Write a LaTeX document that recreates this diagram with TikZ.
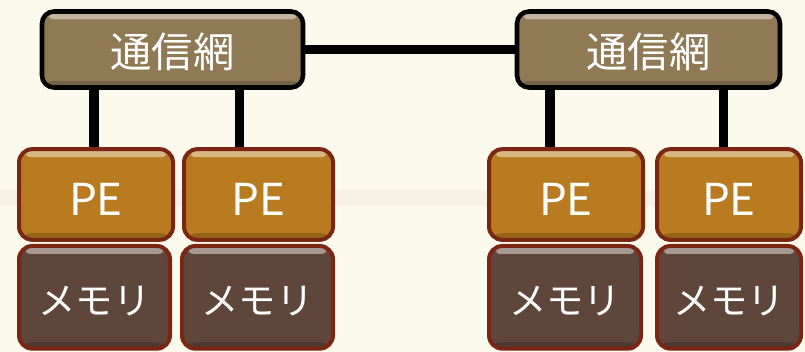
\documentclass[tikz,border=0pt]{standalone}
\usepackage{fontspec}
\newfontfamily\jpfont{Noto Sans CJK JP}
\definecolor{bgcream}{HTML}{FCFAEC}
\definecolor{bgband}{HTML}{F6F3E6}
\definecolor{netfill}{HTML}{8F7A55}
\definecolor{pefill}{HTML}{B87B1F}
\definecolor{memfill}{HTML}{5E463A}
\definecolor{boxrim}{HTML}{7A2612}
\tikzset{every picture/.style={line width=0.75pt}}
\tikzset{
  shine/.style={path picture={
    \fill[white,opacity=.45,rounded corners=3pt] ([xshift=5pt,yshift=-1.5pt]path picture bounding box.north west) rectangle ([xshift=-5pt,yshift=-6pt]path picture bounding box.north east);
    \fill[black,opacity=.18] ([yshift=5pt]path picture bounding box.south west) rectangle (path picture bounding box.south east);}},
  netbox/.style={draw=black, line width=3.4pt, fill=netfill, rounded corners=9pt, shine,
    minimum width=#1*0.75pt, minimum height=57pt, text=white, text height=27pt, text depth=0pt,
    font=\jpfont\fontsize{31}{31}\selectfont},
  pebox/.style={draw=boxrim, line width=3pt, fill=pefill, rounded corners=10pt, shine,
    minimum width=#1*0.75pt, minimum height=68pt, text=white, text height=31pt, text depth=0pt,
    font=\jpfont\fontsize{33}{33}\selectfont},
  membox/.style={draw=boxrim, line width=3pt, fill=memfill, rounded corners=10pt, shine,
    minimum width=#1*0.75pt, minimum height=77pt, text=white, text height=26pt, text depth=0pt,
    font=\jpfont\fontsize{28}{28}\selectfont},
  link/.style={line width=6.8pt, black}
}
\begin{document}
\begin{tikzpicture}[x=0.75pt,y=0.75pt,yscale=-1,xscale=1]
\useasboundingbox (0,0) rectangle (805,352);

%Background
\fill[bgcream] (0,0) rectangle (805,352);
\fill[bgband] (0,190) rectangle (805,206);

%Shape: networks
\node[netbox=261] (netL) at (172.5,49.5) {通信網};
\node[netbox=263] (netR) at (648.5,49.5) {通信網};

%Shape: processing elements
\node[pebox=154] (peA) at (96,194.5) {PE};
\node[pebox=149] (peB) at (258.5,194.5) {PE};
\node[pebox=154] (peC) at (566,194.5) {PE};
\node[pebox=144] (peD) at (729,194.5) {PE};

%Shape: memories
\node[membox=151, anchor=north] (memA) at (94.5,244) {メモリ};
\node[membox=151, anchor=north] (memB) at (257.5,244) {メモリ};
\node[membox=152, anchor=north] (memC) at (565,244) {メモリ};
\node[membox=144, anchor=north] (memD) at (729,244) {メモリ};

%Straight Lines
\draw[link] (netL.east) -- (netR.west);
\draw[link] ([xshift=-1.5pt]peA.north) -- ([xshift=-1.5pt]peA.north |- netL.south);
\draw[link] ([xshift=-14.5pt]peB.north) -- ([xshift=-14.5pt]peB.north |- netL.south);
\draw[link] ([xshift=-12pt]peC.north) -- ([xshift=-12pt]peC.north |- netR.south);
\draw[link] ([xshift=-4pt]peD.north) -- ([xshift=-4pt]peD.north |- netR.south);

\end{tikzpicture}
\end{document}
